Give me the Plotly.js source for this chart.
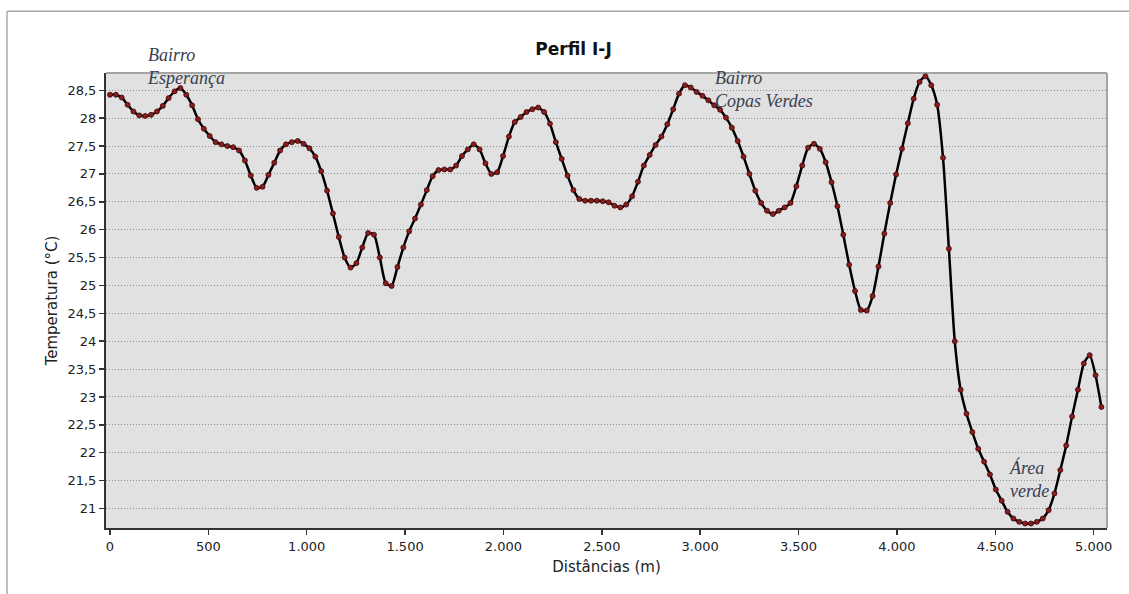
<!DOCTYPE html>
<html>
<head>
<meta charset="utf-8">
<script src="https://cdn.plot.ly/plotly-3.0.1.min.js"></script>
<style>
  html, body { margin: 0; padding: 0; background: #ffffff; }
  #chart { width: 1129px; height: 594px; }
</style>
</head>
<body>
<div id="chart"></div>
<script>
// Temperature profile along transect I-J (°C), one reading per sampling station
const temperatures = [
  28.42, 28.42, 28.37, 28.24, 28.12, 28.05, 28.04, 28.06, 28.12, 28.22,
  28.36, 28.48, 28.54, 28.42, 28.23, 27.98, 27.81, 27.68, 27.57, 27.53,
  27.50, 27.48, 27.42, 27.24, 26.97, 26.75, 26.77, 26.98, 27.20, 27.42,
  27.53, 27.57, 27.59, 27.54, 27.46, 27.31, 27.05, 26.70, 26.29, 25.87,
  25.50, 25.32, 25.40, 25.68, 25.94, 25.91, 25.50, 25.04, 24.99, 25.33,
  25.68, 25.97, 26.20, 26.45, 26.71, 26.96, 27.07, 27.08, 27.08, 27.15,
  27.32, 27.44, 27.53, 27.44, 27.19, 27.00, 27.03, 27.32, 27.67, 27.93,
  28.02, 28.11, 28.16, 28.19, 28.11, 27.90, 27.57, 27.27, 26.97, 26.71,
  26.55, 26.52, 26.52, 26.52, 26.51, 26.49, 26.43, 26.40, 26.45, 26.60,
  26.86, 27.15, 27.34, 27.52, 27.67, 27.89, 28.16, 28.44, 28.59, 28.55,
  28.47, 28.40, 28.32, 28.23, 28.15, 28.01, 27.83, 27.59, 27.31, 27.00,
  26.70, 26.48, 26.34, 26.28, 26.34, 26.40, 26.48, 26.78, 27.15, 27.47,
  27.54, 27.45, 27.21, 26.85, 26.42, 25.91, 25.37, 24.90, 24.56, 24.55,
  24.81, 25.34, 25.93, 26.48, 26.99, 27.45, 27.91, 28.35, 28.65, 28.75,
  28.59, 28.24, 27.29, 25.66, 24.00, 23.13, 22.70, 22.37, 22.07, 21.84,
  21.61, 21.34, 21.14, 20.94, 20.82, 20.76, 20.73, 20.73, 20.76, 20.82,
  20.97, 21.27, 21.69, 22.13, 22.65, 23.13, 23.60, 23.75, 23.39, 22.82
];

// Stations are evenly spaced along the transect (metres between readings)
const stationSpacing = 29.82;
const distances = temperatures.map((_, i) => i * stationSpacing);

// Axis ticks (Portuguese number formatting)
const xTickVals = [0, 500, 1000, 1500, 2000, 2500, 3000, 3500, 4000, 4500, 5000];
const xTickText = ["0", "500", "1.000", "1.500", "2.000", "2.500", "3.000", "3.500", "4.000", "4.500", "5.000"];
const yTickVals = [21, 21.5, 22, 22.5, 23, 23.5, 24, 24.5, 25, 25.5, 26, 26.5, 27, 27.5, 28, 28.5];
const yTickText = ["21", "21,5", "22", "22,5", "23", "23,5", "24", "24,5", "25", "25,5", "26", "26,5", "27", "27,5", "28", "28,5"];

// Place names marked along the profile
const placeLabels = ["Bairro<br>Esperança", "Bairro<br>Copas Verdes", "Área<br>verde"];

const tickFont = { family: "DejaVu Sans, Verdana, sans-serif", size: 13, color: "#222222" };
const titleFont = { family: "DejaVu Sans, Verdana, sans-serif", size: 15, color: "#222222" };

const trace = {
  x: distances,
  y: temperatures,
  type: "scatter",
  mode: "lines+markers",
  line: { color: "#000000", width: 2.5, shape: "spline", smoothing: 0.6 },
  marker: { color: "#8a1c1c", size: 5, line: { color: "#3a0808", width: 0.8 } },
  hoverinfo: "x+y",
  showlegend: false
};

// label placement within the plotting area (paper fractions)
const labelPos = [
  { x: 0.039, y: 1.0147 },
  { x: 0.6066, y: 0.963 },
  { x: 0.9004, y: 0.1076 }
];

const annotations = placeLabels.map((txt, i) => ({
  x: labelPos[i].x,
  y: labelPos[i].y,
  xref: "paper",
  yref: "paper",
  text: txt,
  showarrow: false,
  xanchor: "left",
  yanchor: "middle",
  align: "left",
  font: { family: "Liberation Serif, Times New Roman, serif", size: 18, color: "#384050", style: "italic" }
}));

const layout = {
  width: 1129,
  height: 594,
  paper_bgcolor: "#ffffff",
  plot_bgcolor: "#e1e1e1",
  margin: { l: 106, r: 22, t: 73, b: 66 },
  title: {
    text: "<b>Perfil I-J</b>",
    font: { family: "DejaVu Sans, Verdana, sans-serif", size: 17, color: "#111111" },
    xref: "container",
    x: 0.508,
    xanchor: "center",
    yref: "container",
    y: 0.918,
    yanchor: "middle"
  },
  xaxis: {
    range: [-20.3, 5068],
    tickmode: "array",
    tickvals: xTickVals,
    ticktext: xTickText,
    ticks: "outside",
    ticklen: 5,
    tickwidth: 1.5,
    tickcolor: "#333333",
    tickfont: tickFont,
    showgrid: false,
    zeroline: false,
    showline: true,
    linecolor: "#333333",
    linewidth: 2,
    title: { text: "Distâncias (m)", font: titleFont, standoff: 9 }
  },
  yaxis: {
    range: [20.65, 28.81],
    tickmode: "array",
    tickvals: yTickVals,
    ticktext: yTickText,
    ticks: "outside",
    ticklen: 5,
    tickwidth: 1.5,
    tickcolor: "#333333",
    tickfont: tickFont,
    showgrid: true,
    gridcolor: "#8f8f8f",
    gridwidth: 1,
    griddash: "1px,2px",
    zeroline: false,
    showline: true,
    linecolor: "#333333",
    linewidth: 2,
    title: { text: "Temperatura (°C)", font: titleFont, standoff: 6 }
  },
  annotations: annotations,
  shapes: [
    // light border on the top and right of the plotting area
    { type: "line", xref: "paper", yref: "paper", x0: 0, x1: 1, y0: 1, y1: 1,
      line: { color: "#a4a4a4", width: 2 }, layer: "below" },
    { type: "line", xref: "paper", yref: "paper", x0: 1, x1: 1, y0: 0, y1: 1,
      line: { color: "#a4a4a4", width: 2 }, layer: "below" },
    // outer frame of the figure
    { type: "line", xref: "paper", yref: "paper", x0: -0.0989, x1: 1.03, y0: 1.1355, y1: 1.1355,
      line: { color: "#a8a8a8", width: 1.5 } },
    { type: "line", xref: "paper", yref: "paper", x0: -0.0989, x1: -0.0989, y0: -0.16, y1: 1.1355,
      line: { color: "#a8a8a8", width: 1.5 } }
  ]
};

Plotly.newPlot("chart", [trace], layout, { displayModeBar: false, staticPlot: true });
</script>
</body>
</html>
